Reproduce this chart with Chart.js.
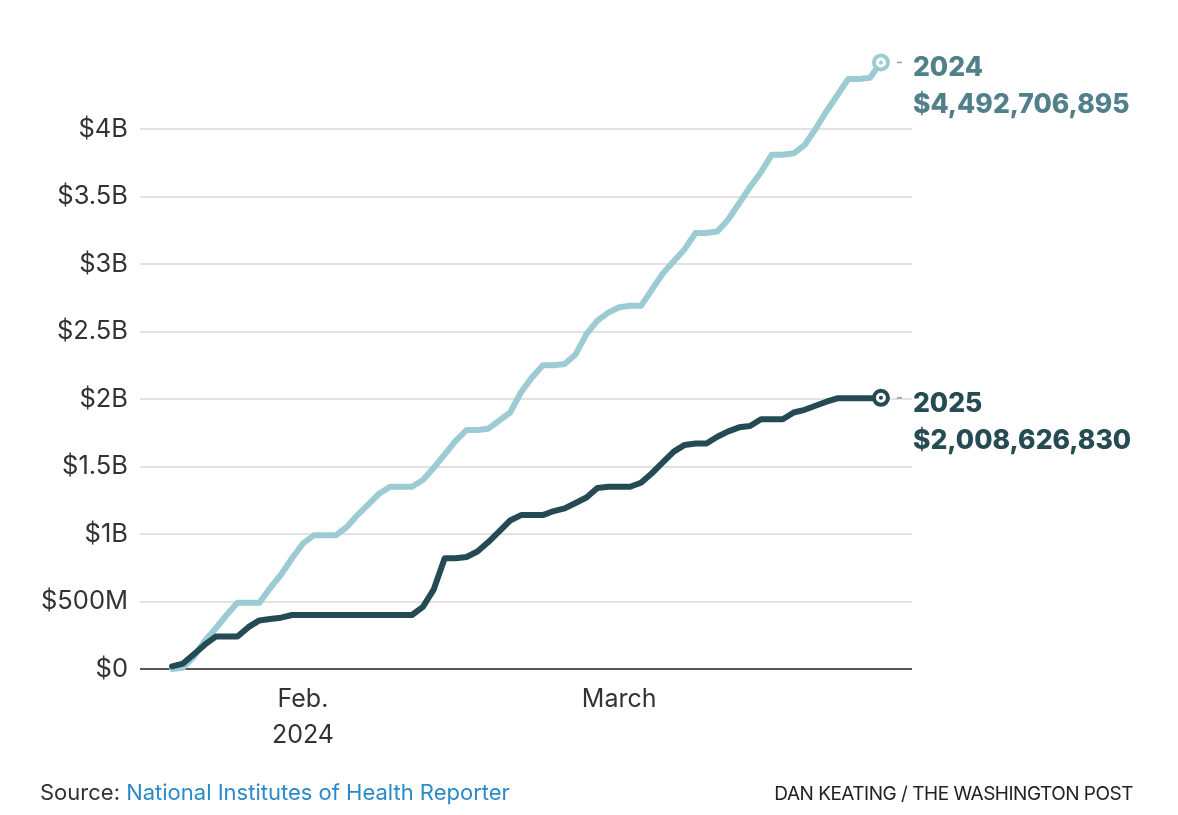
<!DOCTYPE html>
<html>
<head>
<meta charset="utf-8">
<title>NIH awards 2024 vs 2025</title>
<script src="https://cdn.jsdelivr.net/npm/chart.js@4.4.1/dist/chart.umd.min.js"></script>
<style>
  html, body { margin: 0; padding: 0; background: #fff; }
  #wrap { position: relative; width: 1178px; height: 815px; }
  #source { position: absolute; left: 40px; top: 779px; font: 22px Inter, sans-serif; color: #333; white-space: nowrap; }
  #source span { color: #2b8ac8; }
  #credit { position: absolute; right: 45px; top: 782px; font: 19px Inter, sans-serif; letter-spacing: -0.5px; color: #222; white-space: nowrap; }
</style>
</head>
<body>
<div id="wrap">
  <canvas id="chart"></canvas>
  <div id="source">Source: <span>National Institutes of Health Reporter</span></div>
  <div id="credit">DAN KEATING / THE WASHINGTON POST</div>
</div>
<script>
// day of year (2024 calendar), Jan. 20 through March 25
const dayOfYear = [
  20, 21, 22, 23, 24, 25, 26, 27, 28, 29,
  30, 31, 32, 33, 34, 35, 36, 37, 38, 39,
  40, 41, 42, 43, 44, 45, 46, 47, 48, 49,
  50, 51, 52, 53, 54, 55, 56, 57, 58, 59,
  60, 61, 62, 63, 64, 65, 66, 67, 68, 69,
  70, 71, 72, 73, 74, 75, 76, 77, 78, 79,
  80, 81, 82, 83, 84, 85
];

// cumulative awards, billions of dollars
const awards2024 = [
  0.00, 0.01, 0.09, 0.21, 0.30, 0.40, 0.49, 0.49, 0.49, 0.60,
  0.70, 0.82, 0.93, 0.99, 0.99, 0.99, 1.05, 1.14, 1.22, 1.30,
  1.35, 1.35, 1.35, 1.40, 1.49, 1.59, 1.69, 1.77, 1.77, 1.78,
  1.84, 1.90, 2.05, 2.16, 2.25, 2.25, 2.26, 2.33, 2.48, 2.58,
  2.64, 2.68, 2.69, 2.69, 2.81, 2.93, 3.02, 3.11, 3.23, 3.23,
  3.24, 3.33, 3.45, 3.57, 3.68, 3.81, 3.81, 3.82, 3.88, 4.00,
  4.13, 4.25, 4.37, 4.37, 4.38, 4.492706895
];

const awards2025 = [
  0.02, 0.04, 0.11, 0.18, 0.24, 0.24, 0.24, 0.31, 0.36, 0.37,
  0.38, 0.40, 0.40, 0.40, 0.40, 0.40, 0.40, 0.40, 0.40, 0.40,
  0.40, 0.40, 0.40, 0.46, 0.59, 0.82, 0.82, 0.83, 0.87, 0.94,
  1.02, 1.10, 1.14, 1.14, 1.14, 1.17, 1.19, 1.23, 1.27, 1.34,
  1.35, 1.35, 1.35, 1.38, 1.45, 1.53, 1.61, 1.66, 1.67, 1.67,
  1.72, 1.76, 1.79, 1.80, 1.85, 1.85, 1.85, 1.90, 1.92, 1.95,
  1.98, 2.005, 2.005, 2.005, 2.005, 2.00862683
];

const yTickValues = [0, 0.5, 1, 1.5, 2, 2.5, 3, 3.5, 4];
const yTickLabels = ['$0', '$500M', '$1B', '$1.5B', '$2B', '$2.5B', '$3B', '$3.5B', '$4B'];
const xTickDays = [32, 61];
const xTickLabels = [['Feb.', '2024'], 'March'];

const seriesNames = ['2025', '2024'];
const finalTotals = ['$2,008,626,830', '$4,492,706,895'];

const LIGHT = '#9ccbd3';
const DARK = '#244b53';
const FONT = 'Inter, "Liberation Sans", sans-serif';

const toPoints = (vals) => dayOfYear.map((d, i) => ({ x: d, y: vals[i] }));
const lastOnly = (r) => (ctx) => (ctx.dataIndex === dayOfYear.length - 1 ? r : 0);

// end labels: centre dot, little leader dash, year + final total
const endLabels = {
  id: 'endLabels',
  afterDatasetsDraw(chart) {
    const ctx = chart.ctx;
    chart.data.datasets.forEach((ds, i) => {
      const meta = chart.getDatasetMeta(i);
      const pt = meta.data[meta.data.length - 1];
      ctx.save();
      ctx.fillStyle = ds.borderColor;
      ctx.beginPath();
      ctx.arc(pt.x, pt.y, 2, 0, Math.PI * 2);
      ctx.fill();
      ctx.strokeStyle = '#999';
      ctx.lineWidth = 1.5;
      ctx.beginPath();
      ctx.moveTo(pt.x + 16, pt.y);
      ctx.lineTo(pt.x + 21, pt.y);
      ctx.stroke();
      ctx.fillStyle = ds.labelColor;
      ctx.font = '800 26.5px ' + FONT;
      ctx.textAlign = 'left';
      ctx.textBaseline = 'alphabetic';
      ctx.fillText(seriesNames[i], pt.x + 32, pt.y + 14);
      ctx.fillText(finalTotals[i], pt.x + 32, pt.y + 51);
      ctx.restore();
    });
  }
};

new Chart(document.getElementById('chart'), {
  type: 'line',
  data: {
    datasets: [
      {
        label: seriesNames[0],
        data: toPoints(awards2025),
        borderColor: DARK,
        labelColor: '#264b53',
        borderWidth: 6,
        pointRadius: lastOnly(7),
        pointBorderWidth: 4,
        pointBackgroundColor: '#fff',
        pointBorderColor: DARK,
        tension: 0,
        borderJoinStyle: 'round',
        borderCapStyle: 'round',
        clip: false,
      },
      {
        label: seriesNames[1],
        data: toPoints(awards2024),
        borderColor: LIGHT,
        labelColor: '#51808a',
        borderWidth: 6,
        pointRadius: lastOnly(7),
        pointBorderWidth: 4,
        pointBackgroundColor: '#fff',
        pointBorderColor: LIGHT,
        tension: 0,
        borderJoinStyle: 'round',
        borderCapStyle: 'round',
        clip: false,
      },
    ],
  },
  options: {
    responsive: true,
    maintainAspectRatio: false,
    animation: false,
    layout: { padding: { left: 0, right: 266, top: 61.5, bottom: 46 } },
    plugins: { legend: { display: false }, tooltip: { enabled: false } },
    scales: {
      x: {
        type: 'linear',
        min: 17.06,
        max: 87.85,
        afterBuildTicks: (scale) => { scale.ticks = xTickDays.map((v) => ({ value: v })); },
        afterFit: (scale) => { scale.height = 100; },
        grid: { display: false, drawTicks: false },
        border: { display: false },
        ticks: {
          padding: 12,
          color: '#333',
          font: { family: FONT, size: 25, lineHeight: 1.45 },
          maxRotation: 0,
          autoSkip: false,
          callback: (v) => xTickLabels[xTickDays.indexOf(v)],
        },
      },
      y: {
        min: 0,
        max: 4.5,
        afterBuildTicks: (scale) => { scale.ticks = yTickValues.map((v) => ({ value: v })); },
        afterFit: (scale) => { scale.width = 140; },
        grid: {
          drawTicks: false,
          lineWidth: 2,
          color: (c) => (c.tick && c.tick.value === 0 ? '#555' : '#e2e2e2'),
        },
        border: { display: false },
        ticks: {
          padding: 12,
          color: '#333',
          font: { family: FONT, size: 25.5 },
          callback: (v) => yTickLabels[yTickValues.indexOf(v)],
        },
      },
    },
  },
  plugins: [endLabels],
});
</script>
</body>
</html>
